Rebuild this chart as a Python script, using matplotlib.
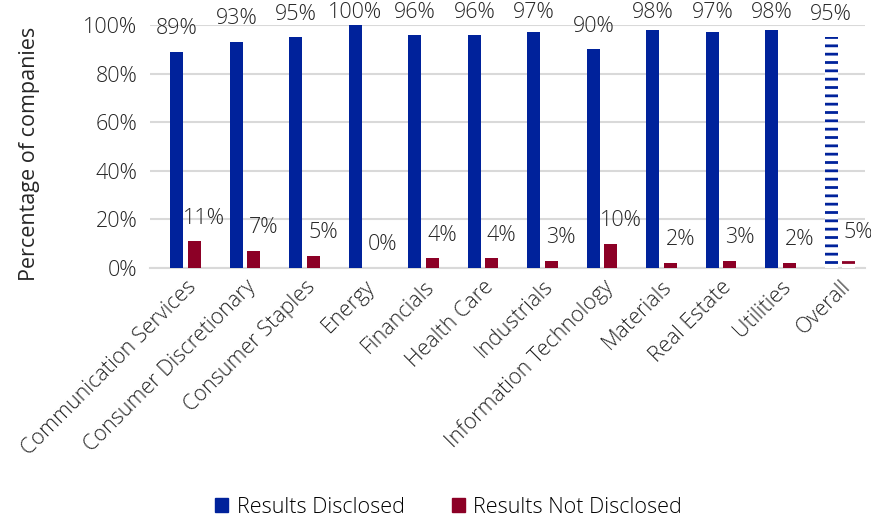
import matplotlib
matplotlib.use('Agg')
import matplotlib.pyplot as plt
from matplotlib.patches import Patch
import numpy as np

plt.rcParams['font.family'] = ['Open Sans', 'DejaVu Sans']
plt.rcParams['font.weight'] = 'light'
plt.rcParams['hatch.linewidth'] = 2.0

sectors = ['Communication Services', 'Consumer Discretionary', 'Consumer Staples',
           'Energy', 'Financials', 'Health Care', 'Industrials',
           'Information Technology', 'Materials', 'Real Estate', 'Utilities', 'Overall']
disclosed = [89, 93, 95, 100, 96, 96, 97, 90, 98, 97, 98, 95]
not_disclosed = [11, 7, 5, 0, 4, 4, 3, 10, 2, 3, 2, 5]

blue = '#00229B'
red = '#8C0026'
txt = '#262626'
fs = 15.5

fig = plt.figure(figsize=(8.71, 5.22), dpi=100)
ax = fig.add_axes([0.172, 0.487, 0.821, 0.465])

x = np.arange(len(sectors))
w = 0.22
off = 0.145

b1 = ax.bar(x - off, disclosed, w, color=blue, zorder=3)
b2 = ax.bar(x + off, not_disclosed, w, color=red, zorder=3)

# last group (Overall) drawn as horizontal hatching
for bars, c in ((b1, blue), (b2, red)):
    p = bars[-1]
    p.set_facecolor('white')
    p.set_edgecolor(c)
    p.set_linewidth(0)
    p.set_hatch('--')

for xi, v in zip(x, disclosed):
    ax.text(xi - off, min(v + 9.5, 105), f'{v}%', ha='center', va='center',
            fontsize=fs, color=txt, clip_on=False)
for xi, v in zip(x, not_disclosed):
    ax.text(xi + off + 0.17, v + 9.5, f'{v}%', ha='center', va='center',
            fontsize=fs, color=txt)

ax.set_ylim(0, 100)
ax.set_xlim(-0.6, 11.42)
ax.set_yticks(range(0, 101, 20))
ax.set_yticklabels([f'{t}%' for t in range(0, 101, 20)], fontsize=fs, color=txt)
ax.set_xticks(x)
ax.set_xticklabels(sectors, rotation=45, ha='right', rotation_mode='anchor',
                   fontsize=fs, color=txt)
ax.tick_params(axis='both', length=0)
ax.tick_params(axis='y', pad=9)
ax.tick_params(axis='x', pad=6)
ax.grid(axis='y', color='#d9d9d9', linewidth=1.5, zorder=0)
ax.set_axisbelow(True)
for s in ['top', 'right', 'left']:
    ax.spines[s].set_visible(False)
ax.spines['bottom'].set_color('#d9d9d9')
ax.spines['bottom'].set_linewidth(1.5)
ax.set_ylabel('Percentage of companies', fontsize=fs, color=txt)
ax.yaxis.set_label_coords(-0.153, 0.47)

handles = [Patch(color=blue), Patch(color=red)]
fig.legend(handles, ['Results Disclosed', 'Results Not Disclosed'],
           loc='center', bbox_to_anchor=(0.515, 0.028), ncol=2, frameon=False,
           fontsize=fs, handlelength=0.6, handleheight=0.6, handletextpad=0.4,
           columnspacing=2.2)

fig.savefig('out.png', dpi=100)
